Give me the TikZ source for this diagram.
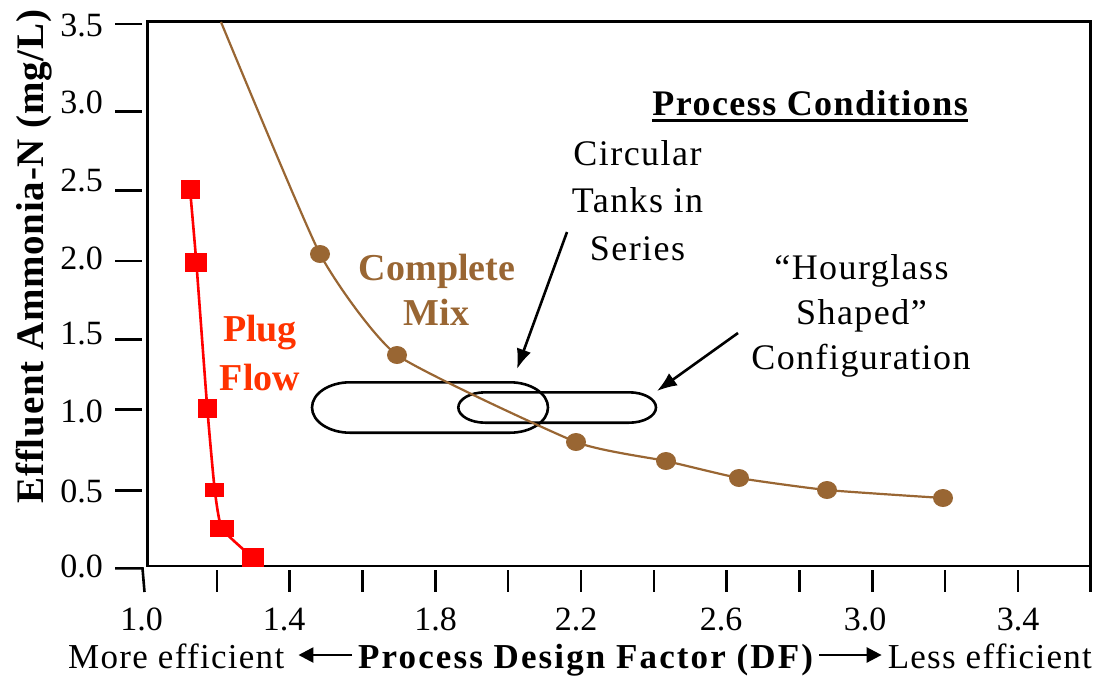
\documentclass[tikz,border=0pt]{standalone}
\usepackage{fontspec}
\setmainfont{Liberation Serif}
\usetikzlibrary{arrows.meta,calc}
\definecolor{mixbrown}{RGB}{153,102,51}
\definecolor{plugred}{RGB}{255,0,0}
\definecolor{plugtext}{RGB}{255,51,0}
\newcommand\setsz[1]{\fontsize{#1}{#1}\selectfont}

\begin{document}
\begin{tikzpicture}[x=1pt,y=-1pt,
  axisline/.style={line width=2.6pt},
  tickline/.style={line width=2.6pt},
  ticklab/.style={font=\setsz{34}, inner sep=0pt},
  note/.style={font=\setsz{36}\addfontfeatures{LetterSpace=4}, inner sep=0pt, anchor=base},
  mixlab/.style={font=\setsz{38}\bfseries, text=mixbrown, inner sep=0pt, anchor=base},
  pluglab/.style={font=\setsz{38}\bfseries, text=plugtext, inner sep=0pt, anchor=base},
  loopline/.style={line width=2.6pt},
  callout/.style={line width=2.6pt, -{Latex[length=20pt,width=15pt]}},
  dirarrow/.style={line width=2.6pt, -{Triangle[length=15pt,width=15pt]}},
  mixline/.style={line width=2.2pt, mixbrown},
  plugline/.style={line width=2.6pt, plugred},
  xlabel/.style={inner sep=0pt, anchor=base}]
\useasboundingbox (0,0) rectangle (1097,678);

% plot frame
\draw[axisline] (147.7,21.7) rectangle (1090.7,566);
\draw[axisline] (1090.7,566) -- (1090.7,592);

% y ticks and labels
\foreach \ty in {24,111.7,190.7,261,339.3,409.3,490.7}
  \draw[tickline] (115,\ty) -- (142,\ty);
\draw[tickline] (115,568.3) -- (142.5,568.3) -- (144.5,592);
\foreach \cy/\lab in {25/3.5,101.7/3.0,180/2.5,258/2.0,333.3/1.5,410.5/1.0,490.5/0.5,565.5/0.0}
  \node[ticklab, anchor=base east] at (103,\cy+11.5) {\lab};

% x ticks and labels
\foreach \tx in {216.8,289.6,362.5,435.3,508.1,580.9,653.9,726.6,799.4,872.3,945.1,1017.9}
  \draw[tickline] (\tx,570) -- (\tx,592);
\foreach \cx/\lab in {141.7/1.0,284/1.4,435.6/1.8,576/2.2,721/2.6,865/3.0,1018/3.4}
  \node[ticklab, anchor=base] at (\cx,630) {\lab};

% axis titles
\node[rotate=90, anchor=base, inner sep=0pt,
      font=\setsz{39}\bfseries\addfontfeatures{LetterSpace=2}] (ytitle) at (43,256.5)
  {Effluent Ammonia-N (mg/L)};
\node[xlabel, anchor=base west, font=\setsz{35}\addfontfeatures{LetterSpace=3.7}] (more) at (68,668) {More efficient};
\node[xlabel, anchor=base west, font=\setsz{35}\bfseries\addfontfeatures{LetterSpace=6}] (pdf) at (358,668) {Process Design Factor (DF)};
\node[xlabel, anchor=base east, font=\setsz{35}\addfontfeatures{LetterSpace=3.6}] (less) at (1092,668) {Less efficient};
\draw[dirarrow] ($(pdf.base west)+(-6,-13)$) -- ($(more.base east)+(14,-13)$);
\draw[dirarrow] ($(pdf.base east)+(6,-13)$) -- ($(less.base west)+(-6,-13)$);

% tank configuration outlines
\draw[loopline] (350,382.3) -- (510,382.3)
  arc[start angle=-90,end angle=90,x radius=38,y radius=25.2] -- (350,432.7)
  arc[start angle=90,end angle=270,x radius=38,y radius=25.2] -- cycle;
\draw[loopline] (485.3,392.3) -- (629,392.3)
  arc[start angle=-90,end angle=90,x radius=27,y radius=15.2] -- (485.3,422.7)
  arc[start angle=90,end angle=270,x radius=27,y radius=15.2] -- cycle;

% complete mix curve
\draw[mixline] plot[smooth, tension=0.3] coordinates
  {(221,22) (320,254) (397,355) (576,442) (666,461) (739,478) (827,490) (943,498)};
\foreach \px/\py in {320/254,397/355,576/442,666/461,739/478,827/490,943/498}
  \fill[mixbrown] (\px,\py) ellipse[x radius=10, y radius=9];

% plug flow curve
\draw[plugline] plot[smooth, tension=0.3] coordinates
  {(190,189) (196.3,262) (207.3,408.5) (214.7,489.5) (222,528.5) (252.7,557.5)};
\foreach \px/\py/\w/\h in {190/189/19/19,196.3/262/22/19,207.3/408.5/19/19,214.7/489.5/19/14,222/528.5/24/17,252.7/557.5/22/19}
  \fill[plugred] ({\px-\w/2},{\py-\h/2}) rectangle ({\px+\w/2},{\py+\h/2});

% curve labels
\node[mixlab] (cm1) at (437,280) {Complete};
\node[mixlab] (cm2) at (436.5,325) {Mix};
\node[pluglab] (pf1) at (260,341.7) {Plug};
\node[pluglab] (pf2) at (260,390) {Flow};

% process conditions
\node[inner sep=0pt, anchor=base east, font=\setsz{36}\bfseries\addfontfeatures{LetterSpace=4}] (pc) at (968,115) {Process Conditions};
\draw[line width=3pt] ($(pc.base west)+(0,5.5)$) -- ($(pc.base east)+(0,5.5)$);

\node[note] (ct1) at (637.5,165) {Circular};
\node[note] (ct2) at (637.5,212.7) {Tanks in};
\node[note] (ct3) at (637.5,260) {Series};
\node[note] (hg1) at (861.5,279) {“Hourglass};
\node[note] (hg2) at (861.5,324) {Shaped”};
\node[note] (hg3) at (861,369) {Configuration};

% callout arrows
\coordinate (ctstart) at (567,232);
\coordinate (cttip) at (517,369);
\coordinate (hgstart) at (738,333);
\coordinate (hgtip) at (657,391);
\draw[callout] (ctstart) -- (cttip);
\draw[callout] (hgstart) -- (hgtip);
\end{tikzpicture}
\end{document}
